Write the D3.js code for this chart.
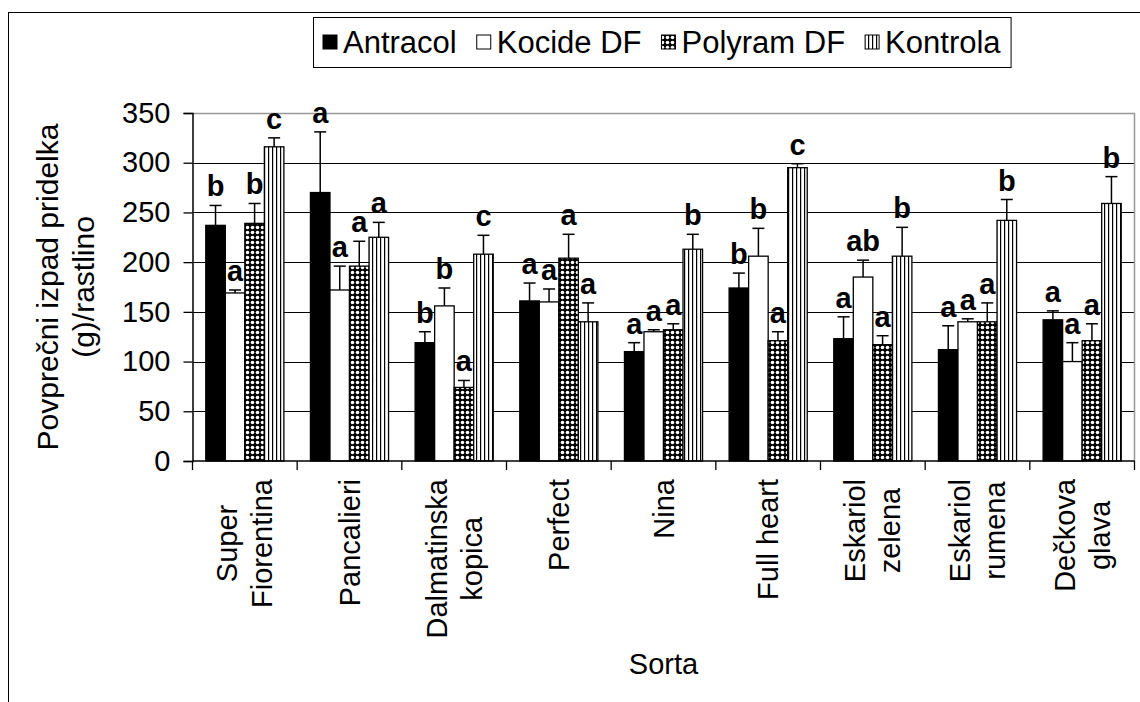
<!DOCTYPE html>
<html>
<head>
<meta charset="utf-8">
<script src="https://cdn.jsdelivr.net/npm/d3@7"></script>
<style>
  html, body { margin: 0; padding: 0; background: #fff; }
  svg { display: block; font-family: Arial, "Liberation Sans", sans-serif; }
</style>
</head>
<body>
<svg id="chart" width="1140" height="702"></svg>
<script>
// ---------- data ----------
const categories = ["Super\nFiorentina", "Pancalieri", "Dalmatinska\nkopica", "Perfect", "Nina",
                    "Full heart", "Eskariol\nzelena", "Eskariol\nrumena", "Dečkova\nglava"];
const seriesNames = ["Antracol", "Kocide DF", "Polyram DF", "Kontrola"];

const antracol    = [237, 270, 119, 161, 110, 174, 123, 112, 142];
const antracolSd  = [ 20,  61,  11,  18,   9,  15,  22,  24,   9];
const kocide      = [169, 172, 156, 160, 130, 206, 185, 140, 100];
const kocideSd    = [  3,  24,  18,  13,   2,  28,  17,   3,  19];
const polyram     = [239, 196,  74, 204, 132, 121, 117, 140, 121];
const polyramSd   = [ 20,  25,   7,  24,   6,   9,   9,  19,  17];
const kontrola    = [316, 225, 208, 140, 213, 295, 206, 242, 259];
const kontrolaSd  = [  9,  15,  19,  19,  15,   4,  29,  21,  27];

const antracolLetters = ["b", "a", "b", "a", "a", "b", "a", "a", "a"];
const kocideLetters   = ["a", "a", "b", "a", "a", "b", "ab", "a", "a"];
const polyramLetters  = ["b", "a", "a", "a", "a", "a", "a", "a", "a"];
const kontrolaLetters = ["c", "a", "c", "a", "b", "c", "b", "b", "b"];

const yTicks = [0, 50, 100, 150, 200, 250, 300, 350];
const yTitle = ["Povprečni izpad pridelka", "(g)/rastlino"];
const xTitle = "Sorta";

// ---------- build table ----------
const seriesData = [
  { name: seriesNames[0], values: antracol, sd: antracolSd, letters: antracolLetters, fill: "#000" },
  { name: seriesNames[1], values: kocide,   sd: kocideSd,   letters: kocideLetters,   fill: "#fff" },
  { name: seriesNames[2], values: polyram,  sd: polyramSd,  letters: polyramLetters,  fill: "url(#dots)" },
  { name: seriesNames[3], values: kontrola, sd: kontrolaSd, letters: kontrolaLetters, fill: "url(#vlines)" }
];
const rows = [];
seriesData.forEach(s => s.values.forEach((v, i) => rows.push({
  series: s.name, cat: categories[i], value: v, sd: s.sd[i], letter: s.letters[i], fill: s.fill
})));

// ---------- layout ----------
const svg = d3.select("#chart");
const FONT = 29;
const plot = { left: 192.5, right: 1134.5, top: 113, bottom: 461 };

// patterns
const defs = svg.append("defs");
const pd = defs.append("pattern").attr("id", "dots").attr("patternUnits", "userSpaceOnUse")
  .attr("width", 5).attr("height", 5);
pd.append("rect").attr("width", 5).attr("height", 5).attr("fill", "#000");
pd.append("circle").attr("cx", 2.5).attr("cy", 2.5).attr("r", 1.8).attr("fill", "#fff");
const pv = defs.append("pattern").attr("id", "vlines").attr("patternUnits", "userSpaceOnUse")
  .attr("width", 4).attr("height", 4);
pv.append("rect").attr("width", 4).attr("height", 4).attr("fill", "#fff");
pv.append("rect").attr("x", 0).attr("width", 1.2).attr("height", 4).attr("fill", "#000");

// outer frame
svg.append("rect").attr("x", 8.5).attr("y", 12.5).attr("width", 1200).attr("height", 800)
  .attr("fill", "none").attr("stroke", "#000").attr("stroke-width", 1);

const y = d3.scaleLinear().domain([0, 350]).range([plot.bottom, plot.top]);
const x = d3.scaleBand().domain(categories).range([plot.left, plot.right]);
const xs = d3.scaleBand().domain(seriesNames).range([0, x.bandwidth()]).paddingOuter(0.68).paddingInner(0);

// gridlines
svg.append("g").selectAll("line").data(yTicks.filter(t => t > 0 && t < 350)).join("line")
  .attr("x1", plot.left).attr("x2", plot.right)
  .attr("y1", d => Math.round(y(d)) + 0.5).attr("y2", d => Math.round(y(d)) + 0.5)
  .attr("stroke", "#000").attr("stroke-width", 1);
// plot area border (top + right, grey)
svg.append("path")
  .attr("d", `M${plot.left},${Math.round(y(350)) + 0.5}H${plot.right}V${plot.bottom}`)
  .attr("fill", "none").attr("stroke", "#999").attr("stroke-width", 1.5);

// bars
svg.append("g").selectAll("rect").data(rows).join("rect")
  .attr("x", d => x(d.cat) + xs(d.series))
  .attr("y", d => y(d.value))
  .attr("width", xs.bandwidth())
  .attr("height", d => y(0) - y(d.value))
  .attr("fill", d => d.fill)
  .attr("stroke", "#000").attr("stroke-width", 1.3);

// error bars (upper only)
const cap = 12;
const eb = svg.append("g").attr("stroke", "#000").attr("stroke-width", 1.5);
eb.selectAll("line.v").data(rows).join("line").attr("class", "v")
  .attr("x1", d => x(d.cat) + xs(d.series) + xs.bandwidth() / 2)
  .attr("x2", d => x(d.cat) + xs(d.series) + xs.bandwidth() / 2)
  .attr("y1", d => y(d.value)).attr("y2", d => y(d.value + d.sd));
eb.selectAll("line.c").data(rows).join("line").attr("class", "c")
  .attr("x1", d => x(d.cat) + xs(d.series) + xs.bandwidth() / 2 - cap / 2)
  .attr("x2", d => x(d.cat) + xs(d.series) + xs.bandwidth() / 2 + cap / 2)
  .attr("y1", d => y(d.value + d.sd)).attr("y2", d => y(d.value + d.sd));

// letters
svg.append("g").selectAll("text").data(rows).join("text")
  .attr("x", d => x(d.cat) + xs(d.series) + xs.bandwidth() / 2)
  .attr("y", d => y(d.value + d.sd) - 9)
  .attr("text-anchor", "middle")
  .attr("font-size", 29).attr("font-weight", "bold")
  .text(d => d.letter);

// y axis
const yAxis = svg.append("g").attr("transform", `translate(${plot.left},0)`)
  .call(d3.axisLeft(y).tickValues(yTicks).tickSize(9).tickPadding(13));
yAxis.select(".domain").attr("stroke", "#000").attr("stroke-width", 1.5);
yAxis.selectAll(".tick line").attr("stroke", "#000").attr("stroke-width", 1.3);
yAxis.selectAll(".tick text").attr("font-size", FONT).attr("font-family", "Arial, 'Liberation Sans', sans-serif").attr("fill", "#000");

// x axis line + boundary ticks
svg.append("line").attr("x1", plot.left).attr("x2", plot.right)
  .attr("y1", plot.bottom).attr("y2", plot.bottom).attr("stroke", "#000").attr("stroke-width", 1.5);
const bounds = categories.map(c => x(c)).concat([x.range()[1]]);
svg.append("g").selectAll("line").data(bounds).join("line")
  .attr("x1", d => d).attr("x2", d => d).attr("y1", plot.bottom).attr("y2", plot.bottom + 9)
  .attr("stroke", "#000").attr("stroke-width", 1.3);

// category labels (rotated, lines centered, top of longest line at fixed y)
const labTop = 479, lineH = 35;
categories.forEach(c => {
  const lines = c.split("\n");
  const g = svg.append("g");
  const texts = lines.map((ln, i) => g.append("text")
    .attr("x", 0).attr("y", (i - (lines.length - 1) / 2) * lineH)
    .attr("dy", "0.35em").attr("text-anchor", "middle").attr("font-size", FONT).text(ln));
  const W = d3.max(texts, t => t.node().getComputedTextLength());
  g.attr("transform", `translate(${x(c) + x.bandwidth() / 2},${labTop + W / 2}) rotate(-90)`);
});

// x title
svg.append("text").attr("x", (plot.left + plot.right) / 2).attr("y", 674)
  .attr("text-anchor", "middle").attr("font-size", FONT).text(xTitle);

// y title
const yt = svg.append("g").attr("transform", `translate(0,${(plot.top + plot.bottom) / 2}) rotate(-90)`);
yTitle.forEach((t, i) => yt.append("text").attr("x", 0).attr("y", 58 + i * 36)
  .attr("text-anchor", "middle").attr("font-size", 30).text(t));

// legend
const lg = svg.append("g");
const lgX = 313, lgY = 17, lgH = 50, sym = 14;
let cx = lgX + 10;
const swatchFill = ["#000", "#fff", "url(#dots)", "url(#vlines)"];
seriesNames.forEach((n, i) => {
  lg.append("rect").attr("x", cx).attr("y", lgY + lgH / 2 - sym / 2).attr("width", sym).attr("height", sym)
    .attr("fill", swatchFill[i]).attr("stroke", "#000").attr("stroke-width", 1);
  const t = lg.append("text").attr("x", cx + sym + 6).attr("y", lgY + lgH / 2).attr("dy", "0.35em")
    .attr("font-size", 31).text(n);
  cx += sym + 6 + t.node().getComputedTextLength() + 20;
});
lg.insert("rect", ":first-child").attr("x", lgX + 0.5).attr("y", lgY + 0.5)
  .attr("width", cx - lgX - 10).attr("height", lgH)
  .attr("fill", "#fff").attr("stroke", "#000").attr("stroke-width", 1);
</script>
</body>
</html>
